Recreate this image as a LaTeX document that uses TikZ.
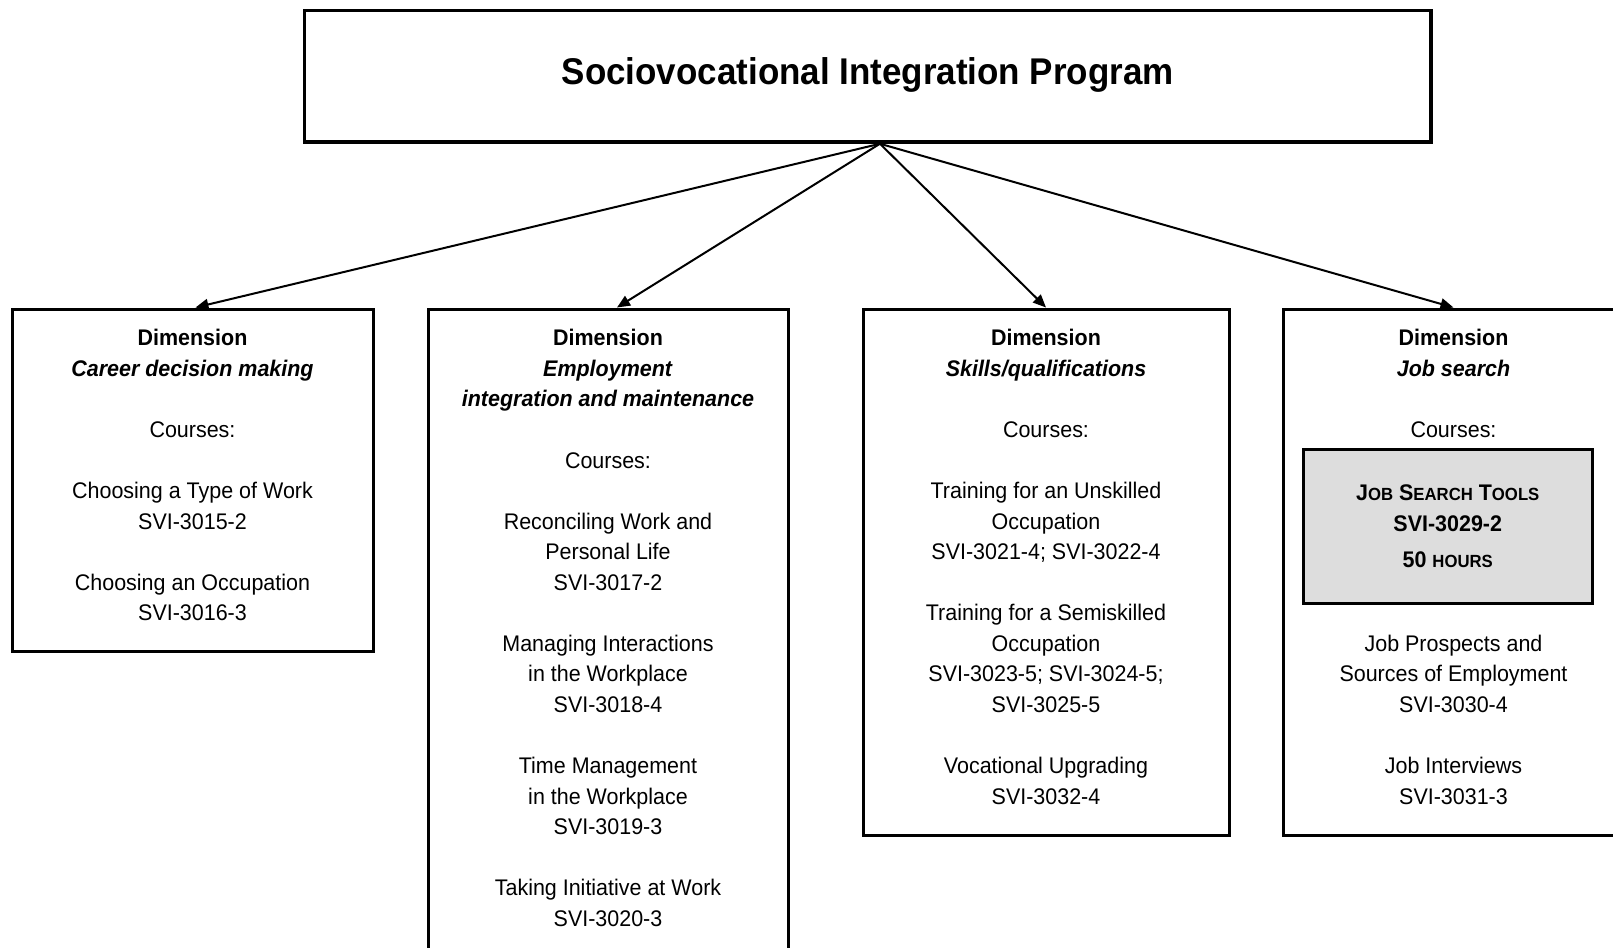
\documentclass[tikz,border=0pt]{standalone}
\usepackage{fontspec}
\setmainfont{Liberation Sans}[FakeStretch=0.95]
\newfontfamily\titlefont{Liberation Sans}[FakeStretch=0.94]
\usetikzlibrary{arrows.meta}
\definecolor{boxgray}{RGB}{221,221,221}
\newcommand\scx[1]{{\fontsize{8.8}{10}\selectfont #1}}
\begin{document}
\begin{tikzpicture}[x=0.5pt,y=-0.5pt,
  body/.style={font=\fontsize{11.3}{15.28}\selectfont, align=center, inner sep=0pt, anchor=north},
  dimbox/.style={draw, line width=1.5pt, inner sep=0pt},
  conn/.style={line width=1pt, -{Triangle[length=6.5pt,width=5.5pt]}}
]
\clip (0,0) rectangle (1613,948);
\fill[white] (0,0) rectangle (1613,948);

% top box
\node[dimbox, line width=1.75pt, minimum width=563.25pt, minimum height=65.85pt] (top) at (867.75,76.15) {};
\node[anchor=base, inner sep=0pt, font=\titlefont\fontsize{18.6}{22}\selectfont\bfseries] (title) at (867.75,84.4) {Sociovocational Integration Program};

% dimension boxes
\node[dimbox, minimum width=180.5pt, minimum height=171pt] (b1) at (192.5,480) {};
\node[dimbox, minimum width=180pt, minimum height=328pt] (b2) at (608,637) {};
\node[dimbox, minimum width=183pt, minimum height=263pt] (b3) at (1046,572) {};
\node[dimbox, minimum width=168.5pt, minimum height=263pt] (b4) at (1451.5,572) {};

% texts
\node[body] (t1) at (192.5,325.4) {\rule{0pt}{10pt}\textbf{Dimension}\\
\textbf{\textit{Career decision making}}\\[15.28pt]
Courses:\\[15.28pt]
Choosing a Type of Work\\
SVI-3015-2\\[15.28pt]
Choosing an Occupation\\
SVI-3016-3};

\node[body] (t2) at (608,325.4) {\rule{0pt}{10pt}\textbf{Dimension}\\
\textbf{\textit{Employment}}\\
\textbf{\textit{integration and maintenance}}\\[15.28pt]
Courses:\\[15.28pt]
Reconciling Work and\\
Personal Life\\
SVI-3017-2\\[15.28pt]
Managing Interactions\\
in the Workplace\\
SVI-3018-4\\[15.28pt]
Time Management\\
in the Workplace\\
SVI-3019-3\\[15.28pt]
Taking Initiative at Work\\
SVI-3020-3};

\node[body] (t3) at (1046,325.4) {\rule{0pt}{10pt}\textbf{Dimension}\\
\textbf{\textit{Skills/qualifications}}\\[15.28pt]
Courses:\\[15.28pt]
Training for an Unskilled\\
Occupation\\
SVI-3021-4; SVI-3022-4\\[15.28pt]
Training for a Semiskilled\\
Occupation\\
SVI-3023-5; SVI-3024-5;\\
SVI-3025-5\\[15.28pt]
Vocational Upgrading\\
SVI-3032-4};

\node[body] (t4a) at (1453.5,325.4) {\rule{0pt}{10pt}\textbf{Dimension}\\
\textbf{\textit{Job search}}\\[15.28pt]
Courses:};

\node[dimbox, fill=boxgray, minimum width=144.75pt, minimum height=76.75pt,
  font=\fontsize{11.3}{15.28}\selectfont, align=center] (g) at (1447.75,526.25)
  {\textbf{J\scx{OB} S\scx{EARCH} T\scx{OOLS}}\\
   \textbf{SVI-3029-2}\\[2.8pt]
   \textbf{50 \scx{HOURS}}};

\node[body] (t4b) at (1453.5,631) {\rule{0pt}{10pt}Job Prospects and\\
Sources of Employment\\
SVI-3030-4\\[15.28pt]
Job Interviews\\
SVI-3031-3};

% connectors
\coordinate (src) at ([xshift=6.1pt]top.south);
\draw[conn] (src) -- ([xshift=1.5pt]b1.north);
\draw[conn] (src) -- ([xshift=4.5pt]b2.north);
\draw[conn] (src) -- (b3.north);
\draw[conn] (src) -- ([xshift=1pt]b4.north);
\end{tikzpicture}
\end{document}
